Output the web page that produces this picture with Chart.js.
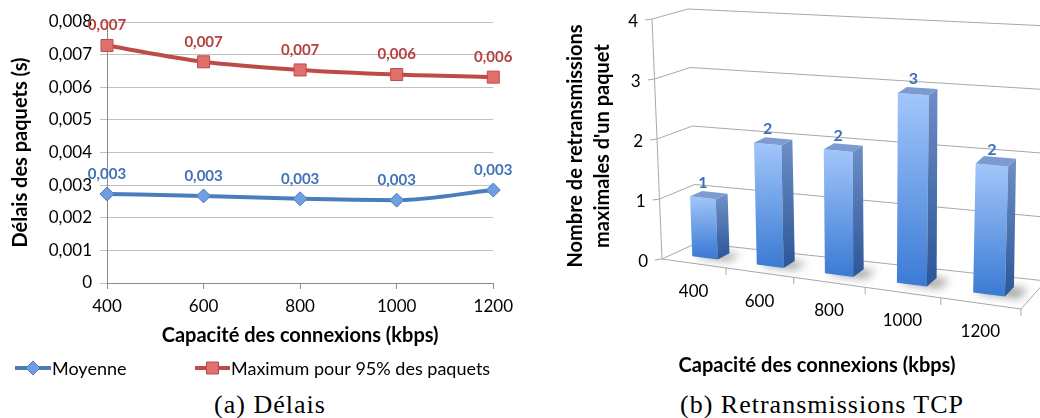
<!DOCTYPE html>
<html lang="fr">
<head>
<meta charset="UTF-8">
<title>Délais et retransmissions TCP</title>
<script src="https://cdn.jsdelivr.net/npm/chart.js@4.4.1/dist/chart.umd.min.js"></script>
<style>
  body { margin: 0; background: #fff; width: 1040px; height: 418px; position: relative; overflow: hidden; }
  canvas { position: absolute; top: 0; }
  #delais { left: 0; }
  #retrans { left: 520px; }
  .caption { position: absolute; top: 391px; line-height: 28px; font-family: "Liberation Serif", serif; font-size: 26px; letter-spacing: 1px; color: #000; transform: translateX(-50%); white-space: nowrap; }
</style>
</head>
<body>
<canvas id="delais" width="520" height="390"></canvas>
<canvas id="retrans" width="520" height="390"></canvas>
<div class="caption" style="left:270px">(a) Délais</div>
<div class="caption" style="left:822px">(b) Retransmissions TCP</div>
<script>
// (a) délais des paquets, en secondes
const capacities = [400, 600, 800, 1000, 1200];
const moyenne = [0.00273, 0.00267, 0.00258, 0.00254, 0.00285];
const maximum95 = [0.00728, 0.00678, 0.00653, 0.00639, 0.00631];

// (b) nombre max de retransmissions d'un paquet
const capacityLabels = ['400', '600', '800', '1000', '1200'];
const retransMax = [1, 2, 2, 3, 2];

const FONT = 'Lato';
Chart.defaults.font.family = FONT;
const fmt = v => v === 0 ? '0' : v.toFixed(3).replace('.', ',');

// labels au-dessus des points
const pointLabels = {
  id: 'pointLabels',
  afterDatasetsDraw(chart) {
    const ctx = chart.ctx;
    ctx.save();
    ctx.font = 'bold 15px ' + FONT;
    ctx.textAlign = 'center';
    ctx.textBaseline = 'middle';
    chart.data.datasets.forEach((ds, i) => {
      ctx.fillStyle = ds.labelColor;
      chart.getDatasetMeta(i).data.forEach((pt, j) => {
        ctx.fillText(fmt(ds.data[j].y), pt.x, pt.y - 20);
      });
    });
    ctx.restore();
  }
};

// légende façon Excel : trait + marqueur
const lineLegend = {
  id: 'lineLegend',
  afterDraw(chart) {
    const ctx = chart.ctx;
    const y = 368;
    const spots = [[15, 51], [195, 230]];
    chart.data.datasets.forEach((ds, i) => {
      const [x0, x1] = spots[i];
      ctx.save();
      ctx.strokeStyle = ds.borderColor;
      ctx.lineWidth = 4;
      ctx.beginPath();
      ctx.moveTo(x0, y);
      ctx.lineTo(x1, y);
      ctx.stroke();
      ctx.fillStyle = ds.backgroundColor;
      ctx.strokeStyle = ds.pointBorderColor;
      ctx.lineWidth = 1;
      Chart.helpers.drawPoint(ctx, { pointStyle: ds.pointStyle, radius: ds.pointRadius, borderWidth: 1, rotation: 0 }, (x0 + x1) / 2, y);
      ctx.fillStyle = '#000';
      ctx.font = '18px ' + FONT;
      ctx.textAlign = 'left';
      ctx.textBaseline = 'middle';
      ctx.fillText(ds.label, x1 + 1, y + 1);
      ctx.restore();
    });
  }
};

new Chart(document.getElementById('delais'), {
  type: 'line',
  data: {
    datasets: [
      {
        label: 'Moyenne',
        data: capacities.map((c, i) => ({ x: c, y: moyenne[i] })),
        borderColor: '#4a7ebb',
        backgroundColor: '#6f9fe0',
        borderWidth: 4,
        pointStyle: 'rectRot',
        pointRadius: 7,
        pointBorderColor: '#4a7ebb',
        pointBorderWidth: 1,
        cubicInterpolationMode: 'monotone',
        clip: false,
        labelColor: '#3f72b8'
      },
      {
        label: 'Maximum pour 95% des paquets',
        data: capacities.map((c, i) => ({ x: c, y: maximum95[i] })),
        borderColor: '#be4b48',
        backgroundColor: '#e0706c',
        borderWidth: 4,
        pointStyle: 'rect',
        pointRadius: 8.5,
        pointBorderColor: '#be4b48',
        pointBorderWidth: 1,
        cubicInterpolationMode: 'monotone',
        clip: false,
        labelColor: '#b5403d'
      }
    ]
  },
  options: {
    responsive: false,
    animation: false,
    devicePixelRatio: 1,
    layout: { padding: { top: 22, right: 21, bottom: 42, left: 0 } },
    plugins: { legend: { display: false }, tooltip: { enabled: false } },
    scales: {
      x: {
        type: 'linear', min: 400, max: 1200,
        ticks: { stepSize: 200, callback: v => String(v), font: { size: 17 }, color: '#000', padding: 7, maxRotation: 0 },
        grid: { drawOnChartArea: false, tickLength: 6, color: '#8c8c8c' },
        border: { color: '#8c8c8c' },
        title: { display: true, text: 'Capacité des connexions (kbps)', font: { size: 20, weight: 'bold' }, color: '#000', padding: { top: 4, bottom: 0 } },
        afterFit: s => { s.height = 65; }
      },
      y: {
        min: 0, max: 0.008,
        ticks: { stepSize: 0.001, callback: v => fmt(v), font: { size: 17 }, color: '#000', padding: 8 },
        grid: { color: '#c0c0c0', tickLength: 7 },
        border: { color: '#8c8c8c' },
        title: { display: true, text: 'Délais des paquets (s)', font: { size: 20, weight: 'bold' }, color: '#000', padding: { top: 9, bottom: 0 } },
        afterFit: s => { s.width = 107; }
      }
    }
  },
  plugins: [pointLabels, lineLegend]
});

// ---- (b) histogramme en perspective ----
// cadre 3D sur le canvas : plan avant (d=0) et mur du fond (d=1)
const frame = {
  front: { lb: [142, 259], lt: [132, 19], rb: [501, 309], rt: [511, 44] },
  back: { lb: [177, 243], lt: [168, 9], rb: [526, 281], rt: [529, 26] },
  persp: 1.15
};
const barDepth = [0.33, 0.68];

function project(u, v, d) {
  const s = u / ((1 - u) * frame.persp + u);
  const plane = p => {
    const bx = p.lb[0] + (p.rb[0] - p.lb[0]) * s, by = p.lb[1] + (p.rb[1] - p.lb[1]) * s;
    const tx = p.lt[0] + (p.rt[0] - p.lt[0]) * s, ty = p.lt[1] + (p.rt[1] - p.lt[1]) * s;
    return [bx + (tx - bx) * v, by + (ty - by) * v];
  };
  const f = plane(frame.front), b = plane(frame.back);
  return [f[0] + (b[0] - f[0]) * d, f[1] + (b[1] - f[1]) * d];
}

function poly(ctx, pts) {
  ctx.beginPath();
  pts.forEach((p, i) => i ? ctx.lineTo(p[0], p[1]) : ctx.moveTo(p[0], p[1]));
  ctx.closePath();
}

const bars3d = {
  id: 'bars3d',
  beforeDatasetsDraw(chart) {
    const ctx = chart.ctx, a = chart.chartArea;
    const xs = chart.scales.x, ys = chart.scales.y;
    const normV = py => (a.bottom - py) / (a.bottom - a.top);
    const normU = px => (px - a.left) / (a.right - a.left);
    ctx.save();
    ctx.strokeStyle = '#a8a8a8';
    ctx.lineWidth = 1;
    // quadrillage : paroi gauche puis mur du fond
    ys.ticks.forEach(t => {
      const v = normV(ys.getPixelForValue(t.value));
      const p = [project(0, v, 0), project(0, v, 1), project(1, v, 1)];
      ctx.beginPath();
      ctx.moveTo(p[0][0], p[0][1]);
      ctx.lineTo(p[1][0], p[1][1]);
      ctx.lineTo(p[2][0], p[2][1]);
      ctx.stroke();
      // graduation
      ctx.beginPath();
      ctx.moveTo(p[0][0], p[0][1]);
      ctx.lineTo(p[0][0] - 7, p[0][1] + 1);
      ctx.stroke();
    });
    // sol + axe vertical
    const fl = project(0, 0, 0), fr = project(1, 0, 0), br = project(1, 0, 1), tl = project(0, 1, 0);
    ctx.beginPath();
    ctx.moveTo(tl[0], tl[1]);
    ctx.lineTo(fl[0], fl[1]);
    ctx.lineTo(fr[0], fr[1]);
    ctx.lineTo(br[0], br[1]);
    ctx.stroke();
    // graduations de l'axe des catégories
    const step = xs.getPixelForValue(1) - xs.getPixelForValue(0);
    capacityLabels.forEach((lab, i) => {
      const p = project(normU(xs.getPixelForValue(i) + step / 2), 0, 0);
      ctx.beginPath();
      ctx.moveTo(p[0], p[1]);
      ctx.lineTo(p[0], p[1] + 7);
      ctx.stroke();
    });
    // textes des axes
    ctx.fillStyle = '#000';
    ctx.font = '17px ' + FONT;
    ctx.textAlign = 'right';
    ctx.textBaseline = 'middle';
    ys.ticks.forEach(t => {
      const p = project(0, normV(ys.getPixelForValue(t.value)), 0);
      ctx.fillText(String(t.value), p[0] - 14, p[1] + 3);
    });
    ctx.font = '17px ' + FONT;
    ctx.textAlign = 'center';
    capacityLabels.forEach((lab, i) => {
      const p = project(normU(xs.getPixelForValue(i)), 0, 0);
      ctx.fillText(lab, p[0], p[1] + 28.5);
    });
    ctx.font = 'bold 20px ' + FONT;
    ctx.fillText('Capacité des connexions (kbps)', 297, 366);
    ctx.translate(69, 146);
    ctx.rotate(-Math.PI / 2);
    ctx.fillText('Nombre de retransmissions', 0, -13);
    ctx.fillText("maximales d'un paquet", 0, 14);
    ctx.restore();
  },
  afterDatasetsDraw(chart) {
    const ctx = chart.ctx, a = chart.chartArea;
    const normV = py => (a.bottom - py) / (a.bottom - a.top);
    const normU = px => (px - a.left) / (a.right - a.left);
    const [d0, d1] = barDepth;
    ctx.save();
    chart.getDatasetMeta(0).data.forEach((bar, i) => {
      const u0 = normU(bar.x - bar.width / 2), u1 = normU(bar.x + bar.width / 2), uc = normU(bar.x);
      const v = normV(bar.y);
      // ombre au sol
      ctx.save();
      ctx.filter = 'blur(4px)';
      ctx.fillStyle = 'rgba(0,0,0,0.35)';
      poly(ctx, [project(u0 + 0.01, 0, d0 - 0.02), project(u1 + 0.035, 0, d0 - 0.02), project(u1 + 0.035, 0, d1), project(u0 + 0.01, 0, d1)]);
      ctx.fill();
      ctx.restore();
      const fb0 = project(u0, 0, d0), fb1 = project(u1, 0, d0), ft0 = project(u0, v, d0), ft1 = project(u1, v, d0);
      const bb1 = project(u1, 0, d1), bt1 = project(u1, v, d1), bt0 = project(u0, v, d1);
      // face avant
      let g = ctx.createLinearGradient(ft0[0], ft0[1], fb0[0], fb0[1]);
      g.addColorStop(0, '#a2c6fa');
      g.addColorStop(1, '#3d7cd5');
      ctx.fillStyle = g;
      poly(ctx, [fb0, fb1, ft1, ft0]);
      ctx.fill();
      // face latérale
      g = ctx.createLinearGradient(ft1[0], ft1[1], fb1[0], fb1[1]);
      g.addColorStop(0, '#6b8cc4');
      g.addColorStop(1, '#2c5697');
      ctx.fillStyle = g;
      poly(ctx, [fb1, bb1, bt1, ft1]);
      ctx.fill();
      // dessus
      ctx.fillStyle = '#7b9bd1';
      poly(ctx, [ft0, ft1, bt1, bt0]);
      ctx.fill();
      // valeur
      const p = project(uc, v, d0);
      ctx.fillStyle = '#3d6fb6';
      ctx.font = 'bold 16px ' + FONT;
      ctx.textAlign = 'center';
      ctx.textBaseline = 'middle';
      ctx.fillText(String(retransMax[i]), p[0], p[1] - 15);
    });
    ctx.restore();
  }
};

new Chart(document.getElementById('retrans'), {
  type: 'bar',
  data: {
    labels: capacityLabels,
    datasets: [{
      data: retransMax,
      backgroundColor: 'rgba(0,0,0,0)',
      borderWidth: 0,
      barPercentage: 0.4,
      categoryPercentage: 1
    }]
  },
  options: {
    responsive: false,
    animation: false,
    devicePixelRatio: 1,
    layout: { padding: 0 },
    plugins: { legend: { display: false }, tooltip: { enabled: false } },
    scales: {
      x: { display: false },
      y: { display: false, min: 0, max: 4, ticks: { stepSize: 1 } }
    }
  },
  plugins: [bars3d]
});
</script>
</body>
</html>
